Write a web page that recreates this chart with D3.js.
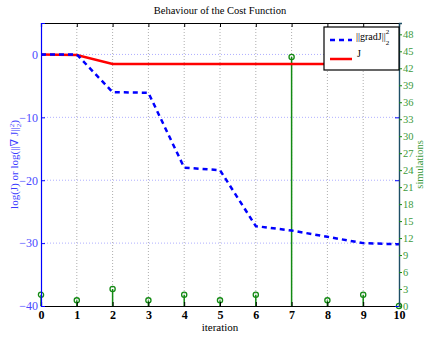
<!DOCTYPE html>
<html>
<head>
<meta charset="utf-8">
<script src="https://cdn.jsdelivr.net/npm/d3@7"></script>
<style>
body { margin: 0; background: #fff; }
text { font-family: "Liberation Serif", "DejaVu Serif", serif; }
</style>
</head>
<body>
<svg id="chart" width="425" height="338"></svg>
<script>
var iterations = [0, 1, 2, 3, 4, 5, 6, 7, 8, 9, 10]
var gradJ = [0, 0, -6, -6.1, -18, -18.4, -27.3, -28, -29, -30, -30.2]
var costJ = [0, -0.1, -1.5, -1.5, -1.5, -1.5, -1.5, -1.5, -1.5, -1.5, -1.5]
var simulations = [2, 1, 3, 1, 2, 1, 2, 44, 1, 2, 0]
var leftTicks = [0, -10, -20, -30, -40]
var rightTicks = d3.range(0, 49, 3)

var svg = d3.select("#chart"),
    margin = { top: 23, right: 26, bottom: 32, left: 41 },
    width = +svg.attr("width") - margin.left - margin.right,
    height = +svg.attr("height") - margin.top - margin.bottom;

var x = d3.scaleLinear().domain([0, 10]).range([0, width]),
    y = d3.scaleLinear().domain([-40, 5]).range([height, 0]),
    y2 = d3.scaleLinear().domain([0, 50]).range([height, 0]);

var blue = "#0000ff", green = "#138a13", red = "#ff0000";

var g = svg.append("g")
    .attr("transform", "translate(" + margin.left + "," + margin.top + ")");

// grid
g.selectAll(".vgrid")
    .data(iterations.slice(1, -1))
    .enter().append("line")
    .attr("x1", d => x(d)).attr("x2", d => x(d))
    .attr("y1", 0).attr("y2", height)
    .attr("stroke", "#999").attr("stroke-width", 0.8)
    .attr("stroke-dasharray", "1,2");

g.selectAll(".hgrid")
    .data(leftTicks.slice(0, -1))
    .enter().append("line")
    .attr("x1", 0).attr("x2", width)
    .attr("y1", d => y(d)).attr("y2", d => y(d))
    .attr("stroke", "#9a9aff").attr("stroke-width", 0.8)
    .attr("stroke-dasharray", "1,2");

// stems
var stems = g.selectAll(".stem")
    .data(iterations.map((d, i) => ({ it: d, v: simulations[i] })))
    .enter().append("g");
stems.append("line")
    .attr("x1", d => x(d.it)).attr("x2", d => x(d.it))
    .attr("y1", height).attr("y2", d => y2(d.v))
    .attr("stroke", green).attr("stroke-width", 1.5);
stems.append("circle")
    .attr("cx", d => x(d.it)).attr("cy", d => y2(d.v))
    .attr("r", 2.6)
    .attr("fill", "none").attr("stroke", green).attr("stroke-width", 1.3);

// lines
var line = d3.line().x((d, i) => x(iterations[i])).y(d => y(d));

g.append("path")
    .datum(costJ)
    .attr("d", line)
    .attr("fill", "none").attr("stroke", red).attr("stroke-width", 2.5);

g.append("path")
    .datum(gradJ)
    .attr("d", line)
    .attr("fill", "none").attr("stroke", blue).attr("stroke-width", 2.5)
    .attr("stroke-dasharray", "5,4");

// axes
var xAxis = g.append("g")
    .attr("transform", "translate(0," + height + ")")
    .call(d3.axisBottom(x).tickValues(iterations).tickFormat(d3.format("d")).tickSize(-4).tickPadding(4));
xAxis.select(".domain").attr("stroke", "#000").attr("stroke-width", 1.2);
xAxis.selectAll("text").attr("font-size", 12).attr("font-weight", "bold").attr("fill", "#000");

var xTop = g.append("g")
    .call(d3.axisTop(x).tickValues(iterations).tickFormat("").tickSize(-4));
xTop.select(".domain").attr("stroke", "#000").attr("stroke-width", 1.2);

var yAxis = g.append("g")
    .call(d3.axisLeft(y).tickValues(leftTicks).tickSize(-4).tickPadding(3)
        .tickFormat(d => d < 0 ? "\u2212" + Math.abs(d) : d));
yAxis.select(".domain").attr("stroke", blue).attr("stroke-width", 1.2);
yAxis.selectAll(".tick line").attr("stroke", blue);
yAxis.selectAll("text").attr("font-size", 12).attr("fill", "#4a4aff");

var yRightBlue = g.append("g")
    .attr("transform", "translate(" + width + ",0)")
    .call(d3.axisRight(y).tickValues(leftTicks).tickSize(-4).tickFormat(""));
yRightBlue.select(".domain").remove();
yRightBlue.selectAll(".tick line").attr("stroke", blue);

var y2Axis = g.append("g")
    .attr("transform", "translate(" + width + ",0)")
    .call(d3.axisRight(y2).tickValues(rightTicks).tickSize(3).tickPadding(1));
y2Axis.select(".domain").attr("stroke", "#1d4f66").attr("stroke-width", 1.4);
y2Axis.selectAll(".tick line").attr("stroke", green);
y2Axis.selectAll("text").attr("font-size", 10.5).attr("fill", "#3c9a3c");

// labels
svg.append("text")
    .attr("x", 220).attr("y", 14)
    .attr("text-anchor", "middle").attr("font-size", 10.5)
    .text("Behaviour of the Cost Function");

svg.append("text")
    .attr("x", margin.left + width / 2).attr("y", 331)
    .attr("text-anchor", "middle").attr("font-size", 11)
    .text("iteration");

var yl = svg.append("text")
    .attr("transform", "translate(18," + (margin.top + height / 2) + ") rotate(-90)")
    .attr("text-anchor", "middle").attr("font-size", 11).attr("fill", "#3a3aff");
yl.append("tspan").text("log(J) or log(||\u2207 J||");
yl.append("tspan").attr("font-size", 7).attr("dy", 3).text("2");
yl.append("tspan").attr("font-size", 7).attr("dy", -7).attr("dx", -3.5).text("2");
yl.append("tspan").attr("dy", 4).text(")");

svg.append("text")
    .attr("transform", "translate(423," + (margin.top + height / 2) + ") rotate(-90)")
    .attr("text-anchor", "middle").attr("font-size", 10.5).attr("fill", "#3c9a3c")
    .text("simulations");

// legend
var lg = g.append("g").attr("transform", "translate(" + (width - 75) + ",4)");
lg.append("rect")
    .attr("width", 75).attr("height", 43)
    .attr("fill", "#fff").attr("stroke", "#000").attr("stroke-width", 1.2);
lg.append("line")
    .attr("x1", 6).attr("x2", 28).attr("y1", 13).attr("y2", 13)
    .attr("stroke", blue).attr("stroke-width", 2.5).attr("stroke-dasharray", "5,4");
lg.append("line")
    .attr("x1", 6).attr("x2", 28).attr("y1", 32).attr("y2", 32)
    .attr("stroke", red).attr("stroke-width", 2.5);
var lt = lg.append("text").attr("x", 32).attr("y", 13).attr("font-size", 10);
lt.append("tspan").text("||gradJ||");
lt.append("tspan").attr("font-size", 7).attr("dy", 5).text("2");
lt.append("tspan").attr("font-size", 7).attr("dy", -11).attr("dx", -3.5).text("2");
lg.append("text").attr("x", 33).attr("y", 30).attr("font-size", 10).text("J");
</script>
</body>
</html>
